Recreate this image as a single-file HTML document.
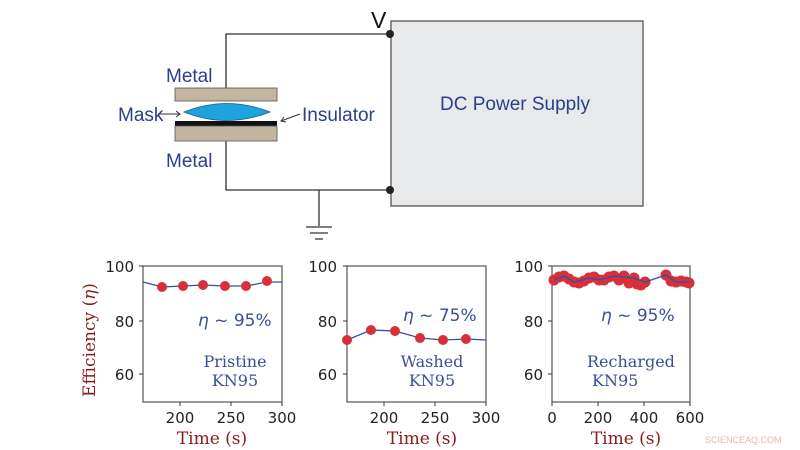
<!DOCTYPE html>
<html><head><style>body{margin:0;background:#fff}svg{display:block}</style></head><body>
<svg width="800" height="450" viewBox="0 0 800 450" xmlns="http://www.w3.org/2000/svg">
<g stroke="#333" stroke-width="1.3" fill="none">
<polyline points="390,34 226,34 226,88"/>
<polyline points="226,141 226,190 390,190"/>
<line x1="319" y1="190" x2="319" y2="226"/>
<line x1="306" y1="227" x2="332" y2="227"/>
<line x1="310" y1="233" x2="328" y2="233"/>
<line x1="315" y1="239" x2="323" y2="239"/>
</g>
<rect x="391" y="21" width="252" height="185" fill="#e8e9ea" stroke="#555" stroke-width="1.3"/>
<circle cx="390" cy="34" r="4" fill="#222"/><circle cx="390" cy="190" r="4" fill="#222"/>
<text x="371" y="28" font-family="Liberation Sans,sans-serif" font-size="23" fill="#111">V</text>
<text x="515" y="110" text-anchor="middle" font-family="Liberation Sans Narrow,Liberation Sans,sans-serif" font-size="19" fill="#2b3f8c">DC Power Supply</text>
<rect x="175" y="88" width="102" height="13" fill="#c3b59f" stroke="#555" stroke-width="0.8"/>
<path d="M184,112 Q227,95 270,112 Q227,129 184,112Z" fill="#1fa3dc" stroke="#1b5a8a" stroke-width="0.8"/>
<rect x="175" y="121" width="102" height="5" fill="#111"/>
<rect x="175" y="126" width="102" height="15" fill="#c3b59f" stroke="#555" stroke-width="0.8"/>
<g font-family="Liberation Sans Narrow,Liberation Sans,sans-serif" font-size="19" fill="#2b3f8c">
<text x="166" y="82">Metal</text><text x="166" y="167">Metal</text>
<text x="118" y="121">Mask</text><text x="302" y="121">Insulator</text>
</g>
<g stroke="#333" stroke-width="1" fill="none">
<line x1="158" y1="114" x2="180" y2="114"/><polyline points="176,111 180,114 176,117"/>
<line x1="300" y1="114" x2="281" y2="121"/><polyline points="284,117 281,121 286,122"/>
</g>
<g font-family="DejaVu Sans,sans-serif" font-size="15" fill="#222">
<text x="134" y="272" text-anchor="end">100</text><text x="134" y="327" text-anchor="end">80</text><text x="134" y="380" text-anchor="end">60</text>
<text x="337" y="272" text-anchor="end">100</text><text x="337" y="327" text-anchor="end">80</text><text x="337" y="380" text-anchor="end">60</text>
<text x="543" y="272" text-anchor="end">100</text><text x="543" y="327" text-anchor="end">80</text><text x="543" y="380" text-anchor="end">60</text>
<text x="180" y="423" text-anchor="middle">200</text><text x="231" y="423" text-anchor="middle">250</text><text x="282" y="423" text-anchor="middle">300</text>
<text x="384" y="423" text-anchor="middle">200</text><text x="435" y="423" text-anchor="middle">250</text><text x="486" y="423" text-anchor="middle">300</text>
<text x="552" y="423" text-anchor="middle">0</text><text x="598" y="423" text-anchor="middle">200</text><text x="644" y="423" text-anchor="middle">400</text><text x="690" y="423" text-anchor="middle">600</text>
</g>
<g stroke="#555" stroke-width="1.2" fill="none">
<rect x="143" y="266" width="139" height="136"/>
<rect x="347" y="266" width="139" height="136"/>
<rect x="552" y="266" width="138" height="136"/>
</g>
<g stroke="#333" stroke-width="1">
<path d="M143,266h-4M143,321h-4M143,374h-4M180,402v4M231,402v4M282,402v4"/>
<path d="M347,266h-4M347,321h-4M347,374h-4M384,402v4M435,402v4M486,402v4"/>
<path d="M552,266h-4M552,321h-4M552,374h-4M552,402v4M598,402v4M644,402v4M690,402v4"/>
</g>
<g fill="#d8303a">
<polyline points="143,282 162,287 183,286 203,285 225,286 246,286 267,282 282,282" fill="none" stroke="#3150a0" stroke-width="1.3"/>
<circle cx="162" cy="287" r="5"/><circle cx="183" cy="286" r="5"/><circle cx="203" cy="285" r="5"/><circle cx="225" cy="286" r="5"/><circle cx="246" cy="286" r="5"/><circle cx="267" cy="281" r="5"/>
<polyline points="347,340 371,330 395,331 420,338 443,340 466,339 486,340" fill="none" stroke="#3150a0" stroke-width="1.3"/>
<circle cx="347" cy="340" r="5"/><circle cx="371" cy="330" r="5"/><circle cx="395" cy="331" r="5"/><circle cx="420" cy="338" r="5"/><circle cx="443" cy="340" r="5"/><circle cx="466" cy="339" r="5"/>
<g>
<circle cx="554" cy="280" r="5.5"/><circle cx="559" cy="277" r="5.5"/><circle cx="564" cy="276" r="5.5"/><circle cx="569" cy="279" r="5.5"/><circle cx="574" cy="282" r="5.5"/><circle cx="579" cy="283" r="5.5"/><circle cx="584" cy="281" r="5.5"/><circle cx="589" cy="278" r="5.5"/><circle cx="594" cy="277" r="5.5"/><circle cx="599" cy="280" r="5.5"/><circle cx="604" cy="280" r="5.5"/><circle cx="609" cy="277" r="5.5"/><circle cx="614" cy="276" r="5.5"/><circle cx="619" cy="280" r="5.5"/><circle cx="624" cy="276" r="5.5"/><circle cx="629" cy="283" r="5.5"/><circle cx="634" cy="278" r="5.5"/><circle cx="637" cy="284" r="5.5"/><circle cx="641" cy="285" r="5.5"/><circle cx="645" cy="282" r="5.5"/><circle cx="666" cy="275" r="5.5"/><circle cx="671" cy="281" r="5.5"/><circle cx="676" cy="282" r="5.5"/><circle cx="681" cy="281" r="5.5"/><circle cx="686" cy="282" r="5.5"/><circle cx="689" cy="283" r="5.5"/>
</g>
<polyline points="554,280 564,276 574,282 589,278 599,280 614,276 624,277 634,278 645,282 666,275 676,282 690,282" fill="none" stroke="#3150a0" stroke-width="1.3"/>
</g>
<g font-family="DejaVu Sans,sans-serif" font-size="17" fill="#3a4f96">
<text x="198" y="326"><tspan font-style="italic">η</tspan> ~ 95%</text>
<text x="403" y="321"><tspan font-style="italic">η</tspan> ~ 75%</text>
<text x="601" y="321"><tspan font-style="italic">η</tspan> ~ 95%</text>
</g>
<g font-family="DejaVu Serif,Liberation Serif,serif" font-size="16" fill="#3a4f96">
<text x="235" y="367" text-anchor="middle">Pristine</text><text x="235" y="386" text-anchor="middle">KN95</text>
<text x="432" y="367" text-anchor="middle">Washed</text><text x="432" y="386" text-anchor="middle">KN95</text>
<text x="587" y="367">Recharged</text><text x="592" y="386">KN95</text>
</g>
<g font-family="DejaVu Serif,Liberation Serif,serif" font-size="17" fill="#8b1a1a">
<text x="212" y="444" text-anchor="middle">Time (s)</text>
<text x="422" y="444" text-anchor="middle">Time (s)</text>
<text x="626" y="444" text-anchor="middle">Time (s)</text>
<text transform="translate(95,340) rotate(-90)" text-anchor="middle">Efficiency (<tspan font-style="italic">η</tspan>)</text>
</g>
<text x="705" y="443" font-family="Liberation Sans,sans-serif" font-size="9" fill="#f4b0b0">SCIENCEAQ.COM</text>
</svg>
</body></html>
